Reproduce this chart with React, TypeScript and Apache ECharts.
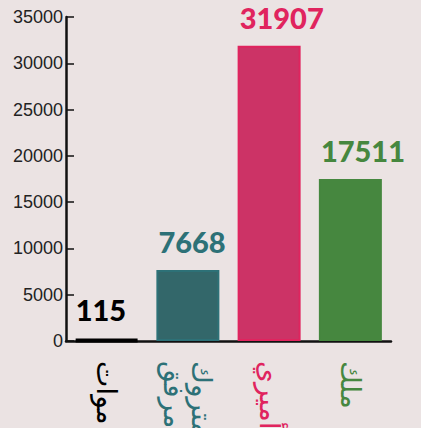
import React, { useEffect, useRef } from "react";
import * as echarts from "echarts";

const categories = ["موات", "متروك\nمرفق", "أميري", "ملك"];
const values = [115, 7668, 31907, 17511];
const barColors = ["#000000", "#33676a", "#cc3366", "#46873f"];
const borderColors = ["#000000", "#2d7177", "#e0245e", "#46873f"];
const labelColors = ["#000000", "#2d7177", "#e0245e", "#46873f"];
const yTicks = [0, 5000, 10000, 15000, 20000, 25000, 30000, 35000];

export default function App() {
  const ref = useRef<HTMLDivElement>(null);
  useEffect(() => {
    if (!ref.current) return;
    const chart = echarts.init(ref.current, null, { renderer: "svg" });
    chart.setOption({
      animation: false,
      backgroundColor: "#ebe3e3",
      grid: { left: 66, right: 30, top: 17, bottom: 87, containLabel: false, outerBoundsMode: "none" },
      xAxis: {
        type: "category",
        data: categories.map((c, i) => ({ value: c, textStyle: { color: labelColors[i] } })),
        axisLine: { lineStyle: { color: "#111", width: 2.5 } },
        axisTick: { inside: true, length: 7, lineStyle: { color: "#111", width: 1.5 } },
        axisLabel: {
          rotate: -90,
          margin: 20,
          fontSize: 28,
          lineHeight: 28,
          fontFamily: "DejaVu Sans",
          interval: 0,
        },
      },
      yAxis: {
        type: "value",
        min: yTicks[0],
        max: yTicks[yTicks.length - 1],
        interval: 5000,
        splitLine: { show: false },
        axisLine: { show: true, lineStyle: { color: "#111", width: 2.5 } },
        axisTick: { show: true, inside: true, length: 8, lineStyle: { color: "#111", width: 1.5 } },
        axisLabel: {
          margin: 3,
          fontSize: 18,
          color: "#222",
          fontFamily: "Liberation Sans",
          formatter: (v: number) => String(v),
        },
      },
      series: [
        {
          type: "bar",
          barWidth: 63,
          data: values.map((v, i) => ({
            value: v,
            itemStyle: { color: barColors[i], borderColor: borderColors[i], borderWidth: i === 0 ? 4 : 2 },
            label: { color: labelColors[i] },
          })),
          label: {
            show: true,
            position: [2, -14],
            align: "left",
            verticalAlign: "bottom",
            fontSize: 29,
            fontWeight: 900,
            fontFamily: "Lato",
          },
        },
      ],
    });
    return () => chart.dispose();
  }, []);
  return <div ref={ref} style={{ width: 421, height: 428, position: "fixed", left: 0, top: 0 }} />;
}
